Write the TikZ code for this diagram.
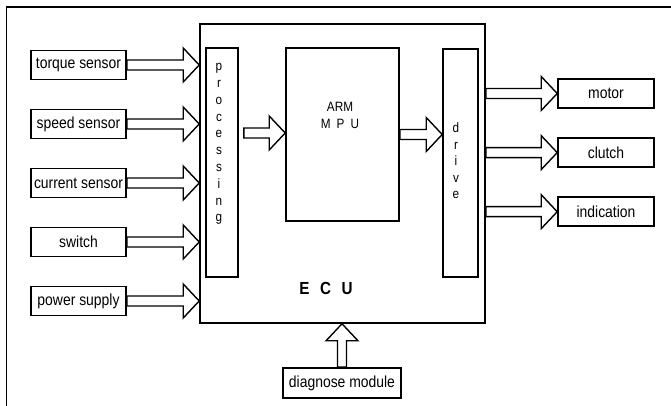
\documentclass[tikz,border=0pt]{standalone}
\usepackage{fontspec}
\setmainfont{Liberation Sans}[FakeStretch=0.87]
\usetikzlibrary{positioning, calc}

% hollow block arrows drawn as outlines
\newcommand{\fatarrowH}[2]{% left to right, from (#1) to tip (#2)
  \draw[fatarrow] ($(#1)+(0,5)$) -- ($(#2)+(-16,5)$) -- ($(#2)+(-16,17)$) -- (#2)
    -- ($(#2)+(-16,-17)$) -- ($(#2)+(-16,-5)$) -- ($(#1)+(0,-5)$) -- cycle;}
\newcommand{\fatarrowV}[2]{% bottom to top, from (#1) to tip (#2)
  \draw[fatarrow] ($(#1)+(-4.5,0)$) -- ($(#2)+(-4.5,-17)$) -- ($(#2)+(-16,-17)$) -- (#2)
    -- ($(#2)+(16,-17)$) -- ($(#2)+(4.5,-17)$) -- ($(#1)+(4.5,0)$) -- cycle;}

\begin{document}
\begin{tikzpicture}[
    x=1pt, y=1pt,
    font=\fontsize{16}{18}\selectfont,
    block/.style={draw, line width=1.6pt, inner sep=0pt},
    sensor/.style={block, minimum width=95pt, minimum height=29pt},
    actuator/.style={block, minimum width=96pt, minimum height=29pt},
    fatarrow/.style={line width=1.4pt, line join=miter},
    frame/.style={line width=1.4pt},
    spelled/.style={align=center, font=\fontsize{13.5}{16.8}\selectfont},
]
\useasboundingbox (0,0) rectangle (671,406);

% --- Outer frame
\draw[frame] (671,399) -- (6.5,399) -- (6.5,0);

% --- ECU and its inner blocks
\node[block, minimum width=285pt, minimum height=299pt] (ecu)  at (342.5,232.5) {};
\node[block, minimum width=32pt,  minimum height=229pt] (proc) at (222,243.5) {};
\node[block, minimum width=113pt, minimum height=173pt] (mpu)  at (342.5,271.5) {};
\node[block, minimum width=35pt,  minimum height=228pt] (drv)  at (460.5,243) {};

\node[spelled] (proctext) at (219,262) {p\\r\\o\\c\\e\\s\\s\\i\\n\\g};
\node[spelled, font=\fontsize{13.5}{16.5}\selectfont] (drvtext) at (456,245) {d\\r\\i\\v\\e};
\node[align=center, font=\fontsize{13.5}{17}\selectfont] (mputext) at (340,290.5)
    {ARM\\M\hspace{0.45em}P\hspace{0.45em}U};
\node[font=\bfseries\fontsize{17.5}{19}\selectfont] (ecutext) at (326,118)
    {E\hspace{0.6em}C\hspace{0.6em}U};

% --- Inputs, top to bottom
\node[sensor] (torque) at (78.5,341) {torque sensor};
\node[sensor, below=28.4pt of torque]  (speed)   {speed sensor};
\node[sensor, below=28.4pt of speed]   (current) {current sensor};
\node[sensor, below=28.4pt of current] (switch)  {switch};
\node[sensor, below=28.4pt of switch]  (power)   {power supply};

% --- Outputs, top to bottom
\node[actuator] (motor) at (606,312.5) {motor};
\node[actuator, below=28.5pt of motor]  (clutch)     {clutch};
\node[actuator, below=28.5pt of clutch] (indication) {indication};

% --- Diagnose module under the ECU
\node[block, minimum width=118pt, minimum height=30pt] (diag) at (342,23) {diagnose module};

% --- Arrows
\foreach \s in {torque,speed,current,switch,power} {
  \coordinate (\s-in) at (\s.east -| ecu.west);
  \fatarrowH{\s.east}{\s-in}
}
\foreach \a in {motor,clutch,indication} {
  \coordinate (\a-out) at (\a.west -| ecu.east);
  \fatarrowH{\a-out}{\a.west}
}
\coordinate (proc-out) at ($(proc.east |- 0,273)+(5,0)$);
\coordinate (mpu-in) at (mpu.west |- 0,273);
\fatarrowH{proc-out}{mpu-in}
\fatarrowH{mpu.east}{drv.west |- mpu.east}
\fatarrowV{diag.north}{diag.north |- ecu.south}

\end{tikzpicture}
\end{document}
